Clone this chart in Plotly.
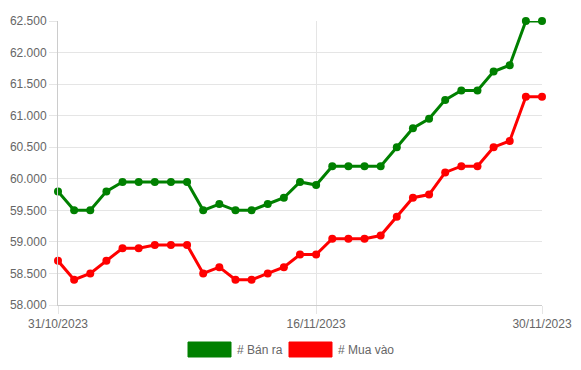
import plotly.graph_objects as go
import pandas as pd

dates = pd.date_range("2023-10-31", "2023-11-30", freq="D").strftime("%Y-%m-%d").tolist()
ban_ra = [59800, 59500, 59500, 59800, 59950, 59950, 59950, 59950, 59950, 59500,
          59600, 59500, 59500, 59600, 59700, 59950, 59900, 60200, 60200, 60200,
          60200, 60500, 60800, 60950, 61250, 61400, 61400, 61700, 61800, 62500, 62500]
mua_vao = [58700, 58400, 58500, 58700, 58900, 58900, 58950, 58950, 58950, 58500,
           58600, 58400, 58400, 58500, 58600, 58800, 58800, 59050, 59050, 59050,
           59100, 59400, 59700, 59750, 60100, 60200, 60200, 60500, 60600, 61300, 61300]
x_tickvals = ["2023-10-31", "2023-11-16", "2023-11-30"]
x_ticktext = ["31/10/2023", "16/11/2023", "30/11/2023"]
y_tickvals = [58000, 58500, 59000, 59500, 60000, 60500, 61000, 61500, 62000, 62500]
series_names = ["# Bán ra", "# Mua vào"]
colors = ["#008000", "#ff0000"]

fig = go.Figure()
for name, vals, c in zip(series_names, [ban_ra, mua_vao], colors):
    fig.add_trace(go.Scatter(x=dates, y=vals, name=name, mode="lines+markers",
                             line=dict(color=c, width=3),
                             marker=dict(color=c, size=8), showlegend=False,
                             cliponaxis=False))

font = dict(family="Liberation Sans, Arial, sans-serif", size=12, color="#666666")
grid = "#e5e5e5"
W, H = 573, 362
ML, MR, MT, MB = 50, 39, 13, 65
fig.update_layout(
    width=W, height=H,
    margin=dict(l=ML, r=MR, t=MT, b=MB),
    paper_bgcolor="white", plot_bgcolor="white",
    separators=",.",
    font=font,
    showlegend=False,
)
fig.update_xaxes(type="date", range=["2023-10-31", "2023-11-30"],
                 tickvals=x_tickvals, ticktext=x_ticktext,
                 showgrid=True, gridcolor=grid, gridwidth=1,
                 showline=True, linecolor="#cccccc", linewidth=1,
                 ticks="outside", ticklen=8, tickcolor=grid,
                 zeroline=False, tickfont=font, automargin=False)
fig.update_yaxes(range=[58000, 62500], tickvals=y_tickvals, tickformat=",.0f",
                 showgrid=True, gridcolor=grid, gridwidth=1,
                 showline=True, linecolor="#cccccc", linewidth=1,
                 ticks="outside", ticklen=8, tickcolor=grid,
                 zeroline=False, tickfont=font, automargin=False)

# Chart.js-style legend drawn in paper coordinates (screen coords minus 8px page offset)
pw, ph = W - ML - MR, H - MT - MB
def px(x): return (x - 8 - ML) / pw
def py(y): return (H - MB - (y - 8)) / ph
legend_items = [(188, 231, 235), (289, 332, 336)]
for (x0, x1, tx), name, c in zip(legend_items, series_names, colors):
    fig.add_shape(type="rect", xref="paper", yref="paper",
                  x0=px(x0), x1=px(x1), y0=py(357), y1=py(342),
                  fillcolor=c, line=dict(color=c, width=1), opacity=1)
    fig.add_annotation(xref="paper", yref="paper", x=px(tx), y=py(349.5),
                       text=name, showarrow=False, xanchor="left", yanchor="middle",
                       font=font)

fig.write_html("out.html")
